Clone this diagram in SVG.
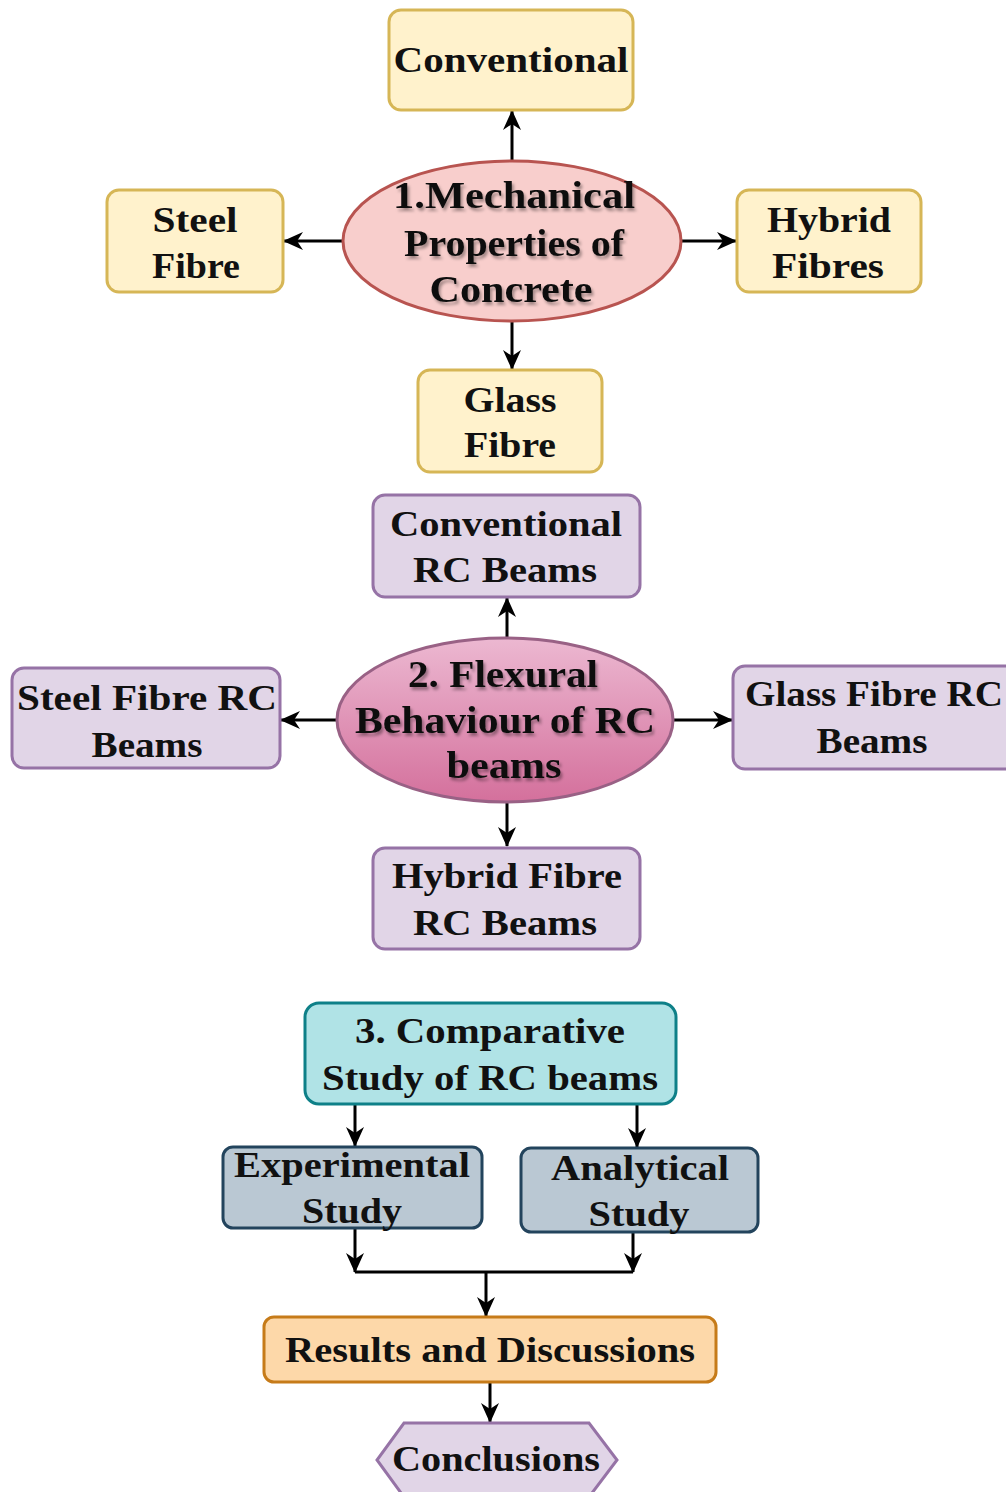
<svg xmlns="http://www.w3.org/2000/svg" width="1006" height="1492" viewBox="0 0 1006 1492">
<defs>
<style>
.t{font-family:"Liberation Serif","Times New Roman",serif;font-weight:bold;font-size:36px;fill:#111;text-anchor:middle}
.te{font-size:37px}
.yel{fill:#fff2cc;stroke:#d6b656;stroke-width:3}
.pur{fill:#e1d5e7;stroke:#9673a6;stroke-width:3}
.tea{fill:#b0e3e6;stroke:#0e8088;stroke-width:3}
.gry{fill:#bac8d3;stroke:#23445d;stroke-width:3}
.ora{fill:#fdd8a9;stroke:#c67b19;stroke-width:3}
.con{stroke:#000;stroke-width:3;fill:none}
.arr{marker-end:url(#ah)}
</style>
<marker id="ah" viewBox="0 0 10 10" refX="9.5" refY="5" markerWidth="20" markerHeight="20" markerUnits="userSpaceOnUse" orient="auto">
<path d="M0,0.5 L10,5 L0,9.5 L3,5 z" fill="#000"/>
</marker>
<linearGradient id="pg" x1="0" y1="0" x2="0" y2="1">
<stop offset="0" stop-color="#ecb8d1"/>
<stop offset="1" stop-color="#d4709c"/>
</linearGradient>
<filter id="sh" x="-10%" y="-10%" width="120%" height="130%">
<feDropShadow dx="2" dy="3" stdDeviation="1.5" flood-color="#000" flood-opacity="0.35"/>
</filter>
</defs>

<g id="connectors">
<line class="con arr" x1="512" y1="163" x2="512" y2="111"/>
<line class="con arr" x1="343" y1="241" x2="284" y2="241"/>
<line class="con arr" x1="682" y1="241" x2="736" y2="241"/>
<line class="con arr" x1="512" y1="321" x2="512" y2="369"/>
<line class="con arr" x1="507" y1="638" x2="507" y2="598"/>
<line class="con arr" x1="337" y1="720" x2="281" y2="720"/>
<line class="con arr" x1="673" y1="720" x2="732" y2="720"/>
<line class="con arr" x1="507" y1="802" x2="507" y2="846"/>
<line class="con arr" x1="355" y1="1104" x2="355" y2="1146"/>
<line class="con arr" x1="637" y1="1104" x2="637" y2="1147"/>
<line class="con arr" x1="355" y1="1228" x2="355" y2="1272"/>
<line class="con arr" x1="633" y1="1232" x2="633" y2="1272"/>
<line class="con" x1="355" y1="1272" x2="633" y2="1272"/>
<line class="con arr" x1="486" y1="1272" x2="486" y2="1316"/>
<line class="con arr" x1="490" y1="1382" x2="490" y2="1422"/>
</g>

<g id="n-conventional">
<rect class="yel" x="389" y="10" width="244" height="100" rx="12"/>
<text class="t" x="511" y="72" textLength="235" lengthAdjust="spacingAndGlyphs">Conventional</text>
</g>

<g id="n-mechanical">
<ellipse cx="512" cy="241" rx="169" ry="80" fill="#f8cecc" stroke="#b85450" stroke-width="3"/>
<g filter="url(#sh)">
<text class="t te" x="514" y="208" textLength="242" lengthAdjust="spacingAndGlyphs">1.Mechanical</text>
<text class="t te" x="514" y="256" textLength="220" lengthAdjust="spacingAndGlyphs">Properties of</text>
<text class="t te" x="511" y="302" textLength="163" lengthAdjust="spacingAndGlyphs">Concrete</text>
</g>
</g>

<g id="n-steel-fibre">
<rect class="yel" x="107" y="190" width="176" height="102" rx="12"/>
<text class="t" x="195" y="232" textLength="85" lengthAdjust="spacingAndGlyphs">Steel</text>
<text class="t" x="196" y="278" textLength="88" lengthAdjust="spacingAndGlyphs">Fibre</text>
</g>

<g id="n-hybrid-fibres">
<rect class="yel" x="737" y="190" width="184" height="102" rx="12"/>
<text class="t" x="829" y="232" textLength="124" lengthAdjust="spacingAndGlyphs">Hybrid</text>
<text class="t" x="828" y="278" textLength="112" lengthAdjust="spacingAndGlyphs">Fibres</text>
</g>

<g id="n-glass-fibre">
<rect class="yel" x="418" y="370" width="184" height="102" rx="12"/>
<text class="t" x="510" y="412" textLength="93" lengthAdjust="spacingAndGlyphs">Glass</text>
<text class="t" x="510" y="457" textLength="92" lengthAdjust="spacingAndGlyphs">Fibre</text>
</g>

<g id="n-conventional-rc">
<rect class="pur" x="373" y="495" width="267" height="102" rx="12"/>
<text class="t" x="506" y="536" textLength="232" lengthAdjust="spacingAndGlyphs">Conventional</text>
<text class="t" x="505" y="582" textLength="184" lengthAdjust="spacingAndGlyphs">RC Beams</text>
</g>

<g id="n-flexural">
<ellipse cx="505" cy="720" rx="168" ry="82" fill="url(#pg)" stroke="#996185" stroke-width="3"/>
<g filter="url(#sh)">
<text class="t te" x="503" y="687" textLength="190" lengthAdjust="spacingAndGlyphs">2. Flexural</text>
<text class="t te" x="505" y="733" textLength="300" lengthAdjust="spacingAndGlyphs">Behaviour of RC</text>
<text class="t te" x="504" y="778" textLength="115" lengthAdjust="spacingAndGlyphs">beams</text>
</g>
</g>

<g id="n-steel-fibre-rc">
<rect class="pur" x="12" y="668" width="268" height="100" rx="12"/>
<text class="t" x="147" y="710" textLength="260" lengthAdjust="spacingAndGlyphs">Steel Fibre RC</text>
<text class="t" x="147" y="757" textLength="111" lengthAdjust="spacingAndGlyphs">Beams</text>
</g>

<g id="n-glass-fibre-rc">
<rect class="pur" x="733" y="666" width="290" height="103" rx="12"/>
<text class="t" x="874" y="706" textLength="258" lengthAdjust="spacingAndGlyphs">Glass Fibre RC</text>
<text class="t" x="872" y="753" textLength="111" lengthAdjust="spacingAndGlyphs">Beams</text>
</g>

<g id="n-hybrid-fibre-rc">
<rect class="pur" x="373" y="848" width="267" height="101" rx="12"/>
<text class="t" x="507" y="888" textLength="230" lengthAdjust="spacingAndGlyphs">Hybrid Fibre</text>
<text class="t" x="505" y="935" textLength="184" lengthAdjust="spacingAndGlyphs">RC Beams</text>
</g>

<g id="n-comparative">
<rect class="tea" x="305" y="1003" width="371" height="101" rx="14"/>
<text class="t" x="490" y="1043" textLength="270" lengthAdjust="spacingAndGlyphs">3. Comparative</text>
<text class="t" x="490" y="1090" textLength="336" lengthAdjust="spacingAndGlyphs">Study of RC beams</text>
</g>

<g id="n-experimental">
<rect class="gry" x="223" y="1147" width="259" height="81" rx="10"/>
<text class="t" x="352" y="1177" textLength="236" lengthAdjust="spacingAndGlyphs">Experimental</text>
<text class="t" x="352" y="1223" textLength="100" lengthAdjust="spacingAndGlyphs">Study</text>
</g>

<g id="n-analytical">
<rect class="gry" x="521" y="1148" width="237" height="84" rx="10"/>
<text class="t" x="640" y="1180" textLength="178" lengthAdjust="spacingAndGlyphs">Analytical</text>
<text class="t" x="639" y="1226" textLength="101" lengthAdjust="spacingAndGlyphs">Study</text>
</g>

<g id="n-results">
<rect class="ora" x="264" y="1317" width="452" height="65" rx="10"/>
<text class="t" x="490" y="1362" textLength="410" lengthAdjust="spacingAndGlyphs">Results and Discussions</text>
</g>

<g id="n-conclusions">
<polygon points="404,1423 589,1423 617,1460 589,1497 404,1497 377,1460" fill="#e1d5e7" stroke="#9673a6" stroke-width="3"/>
<text class="t" x="496" y="1471" textLength="208" lengthAdjust="spacingAndGlyphs">Conclusions</text>
</g>
</svg>
